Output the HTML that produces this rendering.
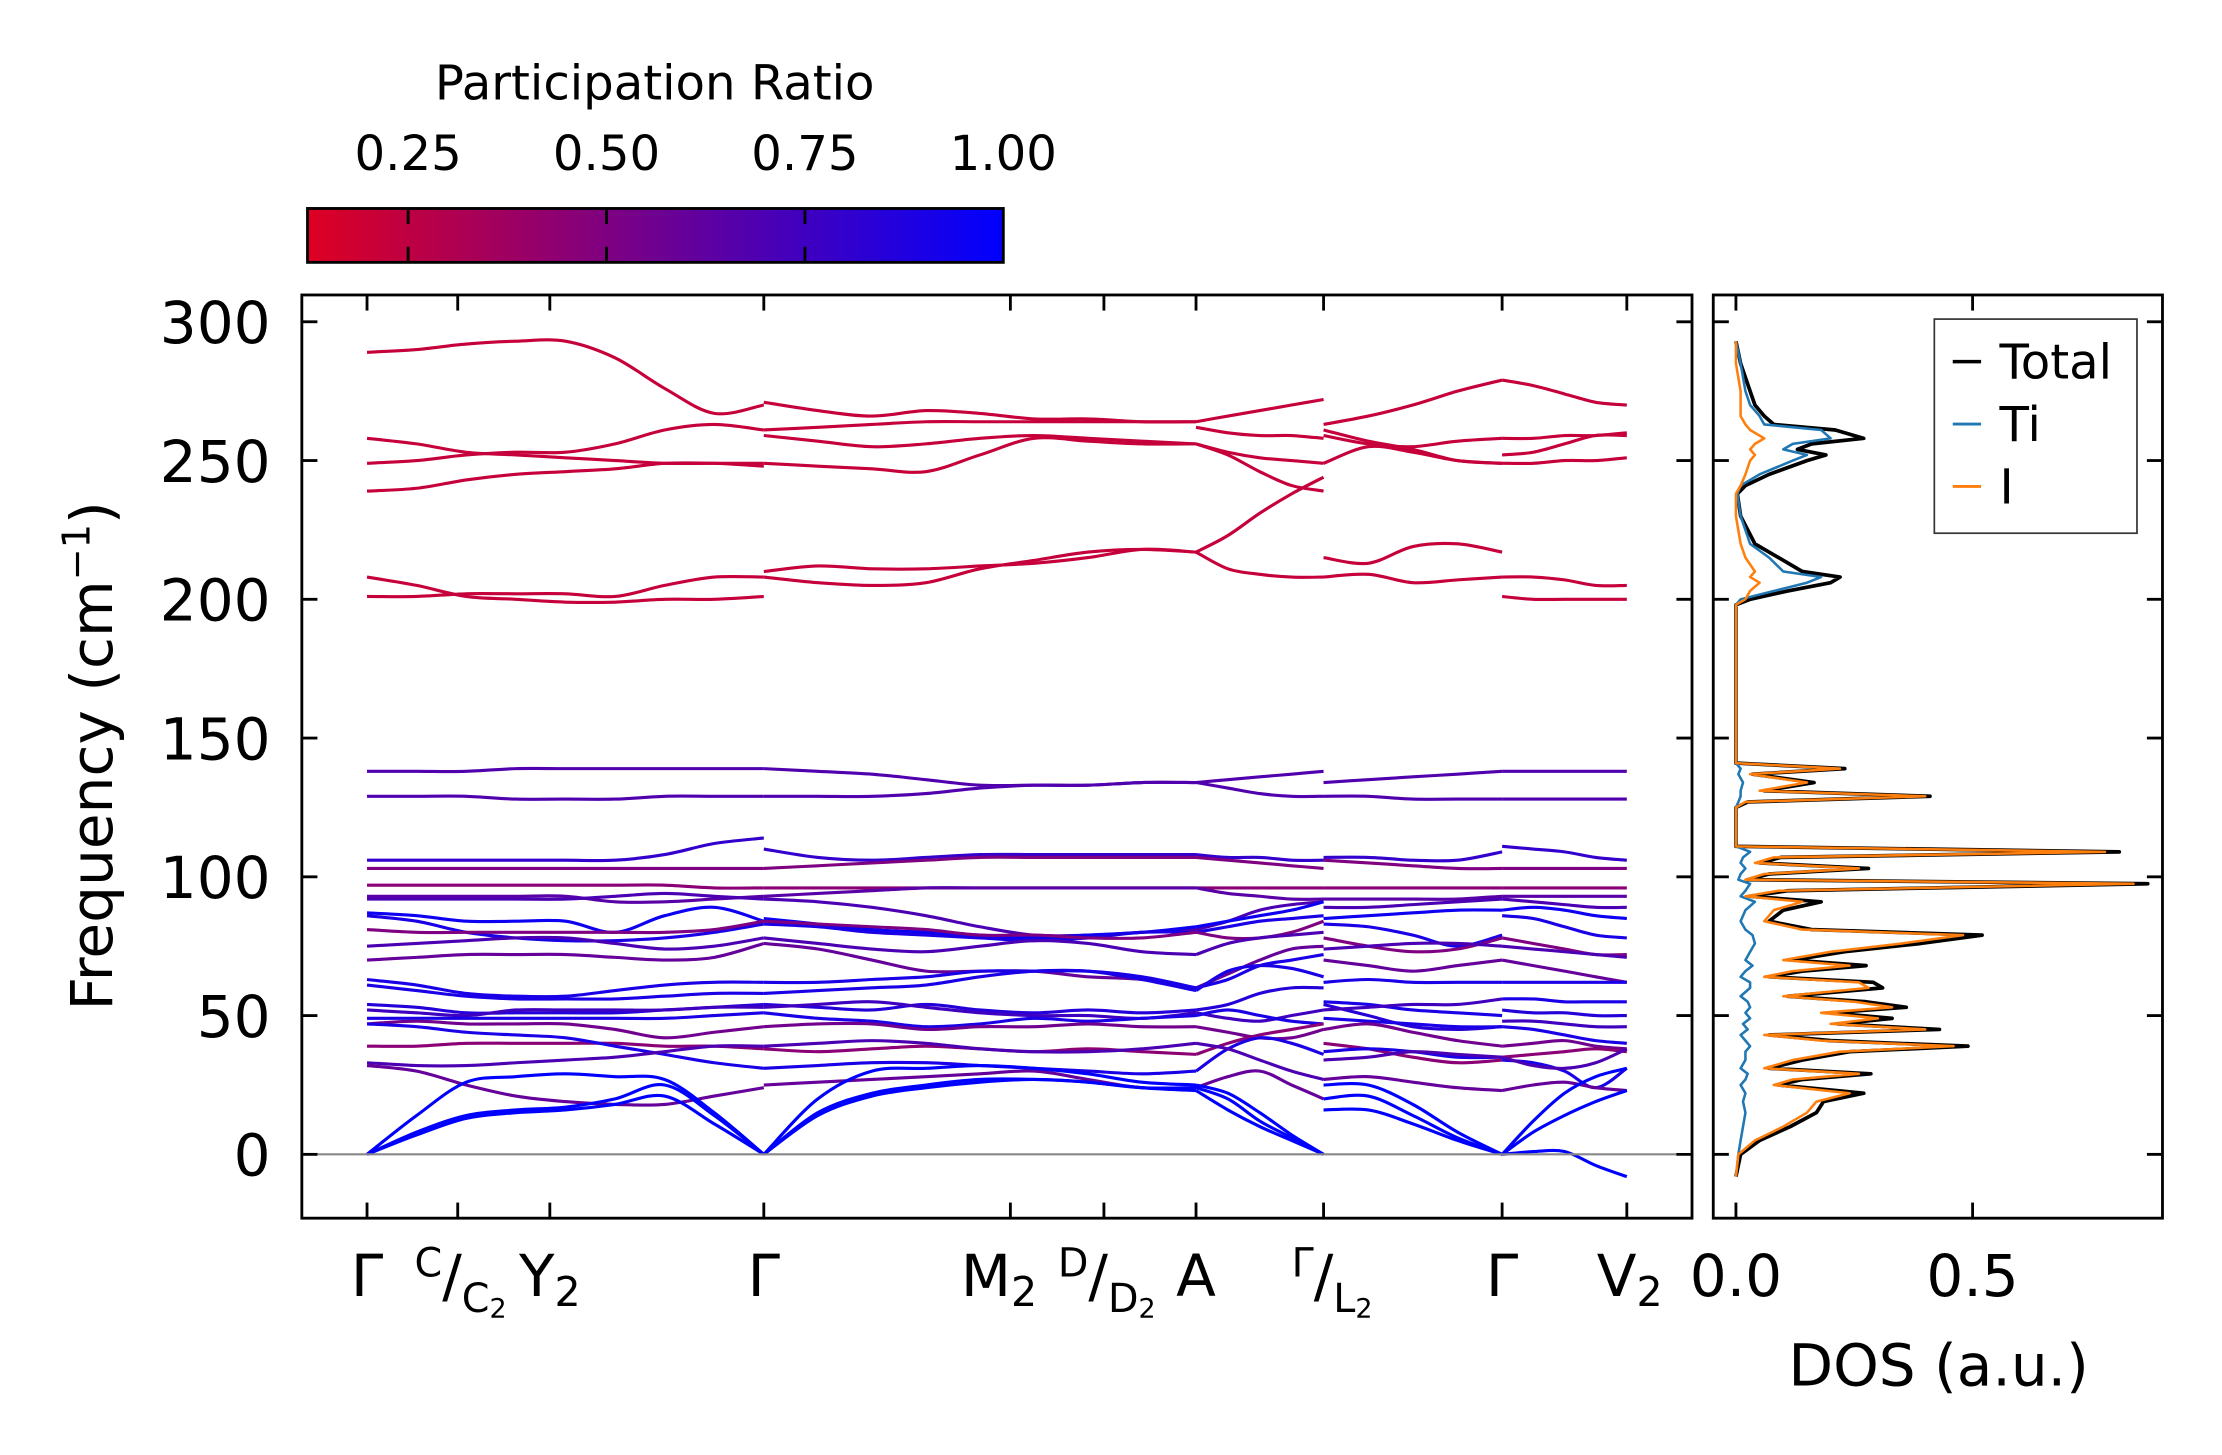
<!DOCTYPE html>
<html><head><meta charset="utf-8"><style>
html,body{margin:0;padding:0;background:#fff;}
svg{display:block;font-family:"DejaVu Sans","Liberation Sans",sans-serif;}
</style></head><body>
<svg id="chart" width="2222" height="1455" viewBox="0 0 1568 1026" preserveAspectRatio="none" xmlns="http://www.w3.org/2000/svg">
<defs>
<linearGradient id="cmap" x1="0" x2="1" y1="0" y2="0">
<stop offset="0" stop-color="rgb(222,0,34)"/><stop offset="1" stop-color="rgb(0,0,255)"/>
</linearGradient>
<clipPath id="mainClip"><rect x="213" y="208" width="981" height="651"/></clipPath>
<clipPath id="dosClip"><rect x="1209" y="208" width="317" height="651"/></clipPath>
</defs>
<g id="colorbar">
<text x="462" y="70" font-size="34" text-anchor="middle">Participation Ratio</text>
<rect x="217" y="147" width="491" height="38" fill="url(#cmap)" stroke="#000" stroke-width="2"/>
</g>
<g id="bands" clip-path="url(#mainClip)"></g>
<line x1="213" x2="1194" y1="814" y2="814" stroke="#888" stroke-width="1.5"/>
<rect x="213" y="208" width="981" height="651" fill="none" stroke="#000" stroke-width="2"/>
<g id="mainTicks"></g>
<text transform="translate(79,533) rotate(-90)" font-size="41" text-anchor="middle">Frequency (cm<tspan font-size="27" dy="-16">−1</tspan><tspan dy="16">)</tspan></text>
<g id="dos" clip-path="url(#dosClip)"></g>
<rect x="1209" y="208" width="317" height="651" fill="none" stroke="#000" stroke-width="2"/>
<g id="dosTicks"></g>
<text x="1368" y="977" font-size="41" text-anchor="middle">DOS (a.u.)</text>
<g>
<rect x="1365" y="225" width="143" height="151" fill="#fff" stroke="#333" stroke-width="1.2"/>
<line x1="1378" x2="1398" y1="255" y2="255" stroke="#000" stroke-width="2.5"/>
<text x="1411" y="267" font-size="34">Total</text>
<line x1="1378" x2="1398" y1="299" y2="299" stroke="#1f77b4" stroke-width="2"/>
<text x="1411" y="311" font-size="34">Ti</text>
<line x1="1378" x2="1398" y1="343" y2="343" stroke="#ff7f0e" stroke-width="2"/>
<text x="1411" y="355" font-size="34">I</text>
</g>
</svg>
<script>
const cbTicks = [0.25, 0.5, 0.75, 1.0];
const cbTickLabels = ["0.25", "0.50", "0.75", "1.00"];
const yTicks = [0, 50, 100, 150, 200, 250, 300];
const kLabelPos = [0, 0.64, 1.29, 2.80, 4.54, 5.20, 5.85, 6.75, 8.01, 8.89];
const dosTicks = [0.0, 0.5];
const dosTickLabels = ["0.0", "0.5"];
const segStart = [0, 2.80, 5.85, 6.75, 8.01];
const segEnd = [2.80, 5.85, 6.75, 8.01, 8.89];
const bandRatio = [0.22,0.22,0.22,0.22,0.22,0.22, 0.68,0.68,
 0.8,0.5,0.45,0.65,0.7,0.95,0.9,0.5,0.7,0.6,0.9,0.9,0.85,0.75,0.9,0.55,0.45,0.9,0.7,0.6,
 1.0,1.0,1.0];
const seg1 = [
[289,290,292,293,293,287,276,267,270],
[258,256,253,252,251,250,249,249,249],
[249,250,252,253,253,256,261,263,261],
[239,240,243,245,246,247,249,249,248],
[208,205,201,200,199,199,200,200,201],
[201,201,202,202,202,201,205,208,208],
[138,138,138,139,139,139,139,139,139],
[129,129,129,128,128,128,129,129,129],
[106,106,106,106,106,106,108,112,114],
[103,103,103,103,103,103,103,103,103],
[97,97,97,97,97,97,97,96,96],
[93,93,93,93,93,91,91,92,93],
[92,92,92,92,92,93,94,93,92],
[87,86,84,84,84,80,86,89,84],
[86,84,80,78,77,77,78,80,83],
[81,80,80,80,80,80,80,81,84],
[75,76,77,78,78,76,74,75,78],
[70,71,72,72,72,71,70,71,76],
[63,61,58,57,57,59,61,62,62],
[61,59,57,56,56,56,57,58,58],
[54,53,51,51,51,51,52,53,54],
[52,51,50,52,52,52,52,53,53],
[49,49,49,49,49,49,49,50,51],
[47,48,47,47,47,45,42,44,46],
[39,39,40,40,40,40,39,39,38],
[47,46,44,43,42,39,36,33,31],
[33,32,32,33,34,35,37,39,39],
[32,30,25,21,19,18,18,21,24],
[0,14,26,28,29,28,27,15,0],
[0,8,14,16,17,20,25,14,0],
[0,7,13,15,16,18,21,11,0]];
const seg2 = [
[271,268,266,268,267,265,265,264,264],
[261,262,263,264,264,264,264,264,264],
[259,257,255,256,258,259,258,257,256],
[249,248,247,246,252,258,257,256,256],
[210,212,211,211,212,213,215,218,217],
[208,206,205,206,211,214,217,218,217],
[139,138,137,135,133,133,133,134,134],
[129,129,129,130,132,133,133,134,134],
[110,107,106,107,108,108,108,108,108],
[103,104,105,106,107,107,107,107,107],
[96,96,96,96,96,96,96,96,96],
[93,94,95,96,96,96,96,96,96],
[92,91,89,86,82,79,79,80,81],
[85,83,81,80,79,78,79,80,82],
[83,82,80,79,78,77,78,80,80],
[84,83,82,81,79,79,78,78,80],
[78,76,74,73,75,77,76,73,72],
[76,74,70,66,66,66,64,63,60],
[62,62,63,64,66,66,66,64,60],
[58,59,60,61,64,66,66,63,59],
[54,53,52,54,52,51,52,51,52],
[53,54,55,53,51,50,50,49,51],
[51,49,48,46,47,49,48,49,50],
[46,47,47,45,46,46,47,46,46],
[38,37,38,39,38,37,38,37,36],
[31,32,33,33,32,31,30,29,30],
[39,40,41,40,38,37,37,38,40],
[25,26,27,28,29,30,27,24,24],
[0,20,30,31,32,31,29,26,25],
[0,15,22,25,27,27,26,24,24],
[0,14,21,24,26,27,26,24,23]];
const seg3 = [
[264,266,268,270,272],
[262,260,259,259,258],
[256,253,251,250,249],
[256,252,246,241,239],
[217,223,231,238,244],
[217,211,209,208,208],
[134,135,136,137,138],
[134,132,130,129,129],
[108,107,107,106,106],
[107,106,105,104,103],
[96,96,96,96,96],
[96,94,93,92,92],
[81,84,88,90,91],
[82,84,86,88,91],
[80,82,84,85,86],
[80,78,78,80,84],
[72,76,78,79,80],
[60,65,70,74,75],
[60,63,68,70,72],
[59,66,68,67,64],
[52,54,58,60,60],
[51,49,48,50,52],
[50,52,50,48,47],
[46,44,42,42,45],
[36,40,43,45,47],
[30,38,42,40,36],
[40,38,34,30,27],
[24,28,30,25,20],
[25,22,15,7,0],
[24,20,12,6,0],
[23,16,10,5,0]];
const seg4 = [
[263,266,270,275,279],
[261,257,254,250,249],
[259,256,255,257,258],
[249,255,253,250,249],
[215,213,219,220,217],
[208,209,206,207,208],
[134,135,136,137,138],
[129,129,128,128,128],
[107,107,106,106,109],
[106,105,104,103,103],
[96,96,96,96,96],
[92,92,92,92,93],
[89,89,90,91,92],
[85,86,87,88,88],
[83,82,79,75,79],
[78,75,73,74,78],
[74,75,76,76,75],
[70,68,66,68,70],
[62,63,62,62,62],
[55,54,52,51,50],
[54,50,46,45,46],
[52,53,54,54,56],
[49,48,47,46,46],
[45,47,44,41,39],
[40,38,35,33,34],
[37,38,37,35,35],
[34,35,37,36,35],
[27,28,26,24,23],
[25,25,18,8,0],
[20,21,14,6,0],
[16,16,11,5,0]];
const seg5 = [
[279,277,274,271,270],
[258,258,259,259,260],
[252,253,256,259,259],
[249,249,250,250,251],
[208,208,207,205,205],
[201,200,200,200,200],
[138,138,138,138,138],
[128,128,128,128,128],
[111,110,109,107,106],
[103,103,103,103,103],
[96,96,96,96,96],
[93,93,93,93,93],
[92,91,90,89,89],
[88,89,88,86,85],
[86,85,82,79,78],
[78,76,74,72,72],
[75,74,73,72,71],
[70,68,66,64,62],
[62,62,62,62,62],
[56,56,55,55,55],
[52,51,51,50,50],
[48,48,47,46,46],
[46,45,43,41,40],
[39,40,41,39,38],
[35,36,37,38,37],
[34,33,30,24,31],
[35,32,31,33,38],
[23,25,26,24,23],
[0,12,22,28,31],
[0,8,14,19,23],
[0,1,1,-4,-8]];
const segments = [seg1, seg2, seg3, seg4, seg5];

const dosFreq = [-8,0,5,10,15,19,22,25,27,29,31,34,37,39,41,43,45,47,49,51,53,55,57,60,62,64,66,68,70,73,76,79,81,84,88,91,93,95,97.5,99,101,103,105,107,109,111,118,125,127,129,131,134,137,139,141,150,190,198,200,203,206,208,210,215,220,230,238,241,245,250,252,254,256,258,261,263,266,270,275,285,293];
const dosI = [0,0.005,0.04,0.10,0.15,0.17,0.24,0.08,0.12,0.26,0.06,0.12,0.22,0.46,0.18,0.06,0.40,0.20,0.30,0.18,0.33,0.25,0.10,0.28,0.26,0.06,0.12,0.24,0.10,0.20,0.35,0.48,0.14,0.06,0.08,0.14,0.02,0.09,0.84,0.02,0.06,0.26,0.04,0.08,0.78,0,0,0,0.02,0.40,0.05,0.15,0.03,0.22,0,0,0,0,0.02,0.03,0.05,0.03,0.04,0.02,0.01,0,0,0.01,0.02,0.03,0.04,0.03,0.04,0.06,0.03,0.02,0.01,0.01,0.01,0,0];
const dosTi = [0,0.005,0.01,0.015,0.02,0.015,0.02,0.01,0.02,0.025,0.01,0.02,0.02,0.03,0.02,0.01,0.025,0.015,0.03,0.02,0.03,0.025,0.01,0.03,0.03,0.01,0.02,0.035,0.02,0.03,0.04,0.035,0.02,0.01,0.02,0.04,0.01,0.02,0.03,0.005,0.01,0.02,0.01,0.015,0.03,0,0,0,0.005,0.01,0.01,0.015,0.005,0.01,0,0,0,0,0.01,0.08,0.15,0.18,0.10,0.07,0.03,0.01,0.003,0.01,0.05,0.12,0.15,0.10,0.12,0.20,0.18,0.06,0.05,0.03,0.02,0.01,0];
const dosTotal = [0,0.01,0.05,0.115,0.17,0.185,0.27,0.09,0.14,0.285,0.07,0.14,0.24,0.49,0.20,0.07,0.43,0.215,0.33,0.20,0.36,0.275,0.11,0.31,0.29,0.07,0.14,0.275,0.12,0.23,0.39,0.52,0.16,0.07,0.10,0.18,0.03,0.11,0.87,0.025,0.07,0.28,0.05,0.095,0.81,0,0,0,0.025,0.41,0.06,0.165,0.035,0.23,0,0,0,0,0.03,0.11,0.20,0.22,0.14,0.09,0.04,0.01,0.003,0.02,0.07,0.15,0.19,0.13,0.16,0.27,0.21,0.08,0.06,0.04,0.03,0.01,0];

const NS = "http://www.w3.org/2000/svg";
const xK = k => 259 + k * 100;
const yF = f => 814 - f * 1.957;
const xCb = v => 217 + (v - 0.1232) * 560;
const xDos = d => 1225 + d * 334;
function ratioColor(v) {
  const t = Math.max(0, Math.min(1, (v - 0.1232) / (1 - 0.1232)));
  return `rgb(${Math.round(222*(1-t))},0,${Math.round(34+221*t)})`;
}
function mk(tag, attrs, parent) {
  const el = document.createElementNS(NS, tag);
  for (const k in attrs) el.setAttribute(k, attrs[k]);
  parent.appendChild(el);
  return el;
}
function smoothPath(pts) {
  let d = `M${pts[0][0].toFixed(1)},${pts[0][1].toFixed(1)}`;
  for (let i = 0; i < pts.length - 1; i++) {
    const p0 = pts[Math.max(0,i-1)], p1 = pts[i], p2 = pts[i+1], p3 = pts[Math.min(pts.length-1,i+2)];
    const c1x = p1[0] + (p2[0]-p0[0])/6, c1y = p1[1] + (p2[1]-p0[1])/6;
    const c2x = p2[0] - (p3[0]-p1[0])/6, c2y = p2[1] - (p3[1]-p1[1])/6;
    d += ` C${c1x.toFixed(1)},${c1y.toFixed(1)} ${c2x.toFixed(1)},${c2y.toFixed(1)} ${p2[0].toFixed(1)},${p2[1].toFixed(1)}`;
  }
  return d;
}
const cbG = document.getElementById("colorbar");
cbTicks.forEach((v, i) => {
  const x = xCb(v);
  if (i < cbTicks.length - 1) {
    const t1 = mk("line", {x1:x,x2:x,y1:147,y2:158,stroke:"#000","stroke-width":2}, cbG);
    
    
    const t2 = mk("line", {x1:x,x2:x,y1:174,y2:185,stroke:"#000","stroke-width":2}, cbG);
    
    
  }
  const tx = mk("text", {x:x,y:120,"font-size":34,"text-anchor":"middle"}, cbG);
  tx.textContent = cbTickLabels[i];
  
  
});
const bandG = document.getElementById("bands");
segments.forEach((seg, s) => {
  seg.forEach((vals, b) => {
    const n = vals.length;
    const pts = vals.map((f, i) => [xK(segStart[s] + (segEnd[s]-segStart[s]) * i/(n-1)), yF(f)]);
    const p = mk("path", {d:smoothPath(pts), fill:"none", stroke:ratioColor(bandRatio[b]), "stroke-width":2.2}, bandG);
    
    
  });
});
const tG = document.getElementById("mainTicks");
yTicks.forEach(f => {
  const y = yF(f);
  const a = mk("line", {x1:213,x2:224,y1:y,y2:y,stroke:"#000","stroke-width":2}, tG);
  
  
  const b = mk("line", {x1:1183,x2:1194,y1:y,y2:y,stroke:"#000","stroke-width":2}, tG);
  
  
  const c = mk("line", {x1:1209,x2:1220,y1:y,y2:y,stroke:"#000","stroke-width":2}, tG);
  
  
  const d = mk("line", {x1:1515,x2:1526,y1:y,y2:y,stroke:"#000","stroke-width":2}, tG);
  
  
  const t = mk("text", {x:191,y:y+15,"font-size":41,"text-anchor":"end"}, tG);
  t.textContent = String(f);
  
  
});
kLabelPos.forEach(k => {
  const x = xK(k);
  const a = mk("line", {x1:x,x2:x,y1:208,y2:219,stroke:"#000","stroke-width":2}, tG);
  
  
  const b = mk("line", {x1:x,x2:x,y1:848,y2:859,stroke:"#000","stroke-width":2}, tG);
  
  
});
const kLabelsSvg = [
 {k:0, html:'Γ'},
 {k:0.64, html:'<tspan font-size="28" dy="-14">C</tspan><tspan dy="14">/</tspan><tspan font-size="28" dy="11">C</tspan><tspan font-size="19" dy="4">2</tspan>'},
 {k:1.29, html:'Y<tspan font-size="29" dy="7">2</tspan>'},
 {k:2.80, html:'Γ'},
 {k:4.54, html:'M<tspan font-size="29" dy="7">2</tspan>'},
 {k:5.20, html:'<tspan font-size="28" dy="-14">D</tspan><tspan dy="14">/</tspan><tspan font-size="28" dy="11">D</tspan><tspan font-size="19" dy="4">2</tspan>'},
 {k:5.85, html:'A'},
 {k:6.75, html:'<tspan font-size="28" dy="-14">Γ</tspan><tspan dy="14">/</tspan><tspan font-size="28" dy="11">L</tspan><tspan font-size="19" dy="4">2</tspan>'},
 {k:8.01, html:'Γ'},
 {k:8.89, html:'V<tspan font-size="29" dy="7">2</tspan>'}
];
const xoff = [0, 2, 0, 0, -8, 2, 0, 6, 0, 2];
kLabelsSvg.forEach((o, i) => {
  const t = mk("text", {x:xK(o.k)+xoff[i], y:914, "font-size":41, "text-anchor":"middle"}, tG);
  t.innerHTML = o.html;
  
  
});
const dG = document.getElementById("dos");
function dosPath(vals) {
  return vals.map((v, i) => (i ? "L" : "M") + xDos(v).toFixed(1) + "," + yF(dosFreq[i]).toFixed(1)).join(" ");
}
const pTot = mk("path", {d:dosPath(dosTotal), fill:"none", stroke:"#000", "stroke-width":2.6, "stroke-linejoin":"round"}, dG);


const pTi = mk("path", {d:dosPath(dosTi), fill:"none", stroke:"#1f77b4", "stroke-width":1.8, "stroke-linejoin":"round"}, dG);


const pI = mk("path", {d:dosPath(dosI), fill:"none", stroke:"#ff7f0e", "stroke-width":1.8, "stroke-linejoin":"round"}, dG);


const dtG = document.getElementById("dosTicks");
dosTicks.forEach((v, i) => {
  const x = xDos(v);
  const a = mk("line", {x1:x,x2:x,y1:208,y2:219,stroke:"#000","stroke-width":2}, dtG);
  
  
  const b = mk("line", {x1:x,x2:x,y1:848,y2:859,stroke:"#000","stroke-width":2}, dtG);
  
  
  const t = mk("text", {x:x,y:914,"font-size":41,"text-anchor":"middle"}, dtG);
  t.textContent = dosTickLabels[i];
  
  
});
</script>
</body></html>
